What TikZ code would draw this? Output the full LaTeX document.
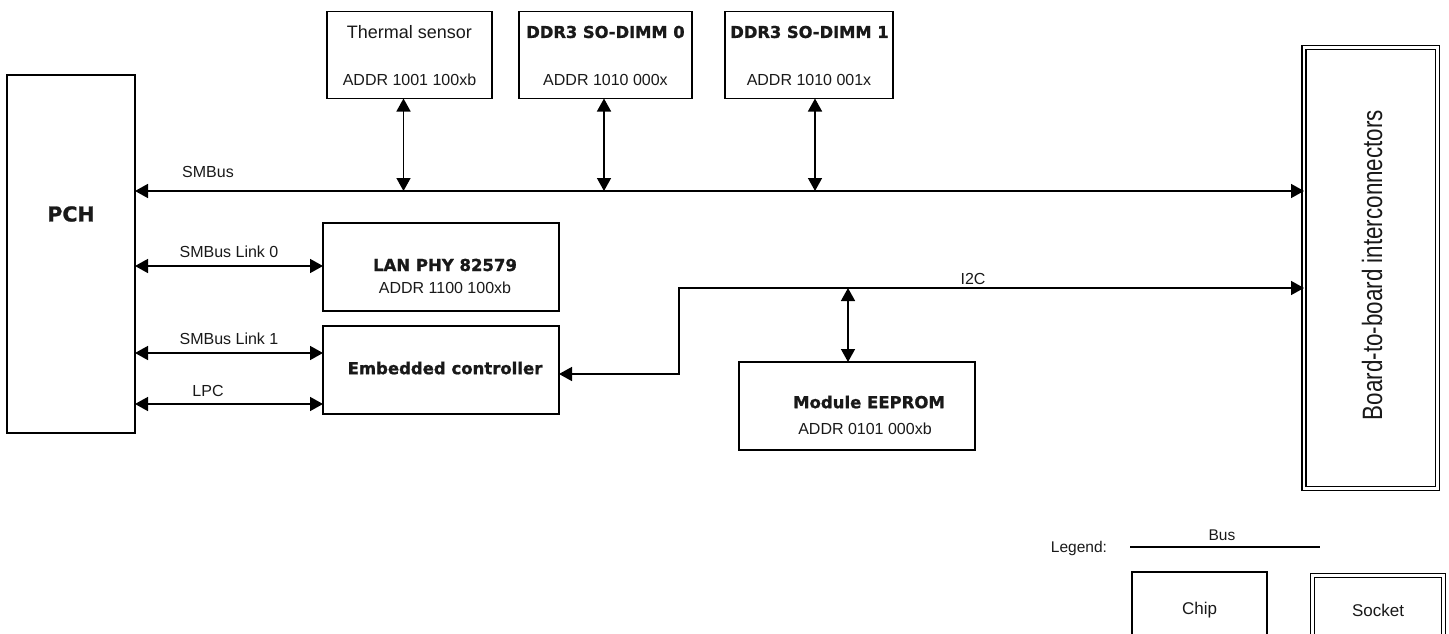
\documentclass[tikz,border=0pt]{standalone}
\usepackage{fontspec}
\setmainfont{Liberation Sans}
\newfontfamily\heavy{DejaVu Sans}[BoldFeatures={FakeBold=1.2}]
\usetikzlibrary{arrows.meta}
\tikzset{
  chip/.style={draw, line width=1.6pt, inner sep=0pt, outer sep=0pt},
  socket/.style={draw, line width=1.3pt, double, double distance=2.8pt, inner sep=0pt, outer sep=0pt},
  arr/.style={line width=1.5pt, <->, >={Triangle[length=13pt,width=14pt]}},
  busline/.style={line width=1.5pt},
  txt/.style={inner sep=0pt, text=black!90, font=\fontsize{16}{19}\selectfont},
  btxt/.style={inner sep=0pt, text=black!90, font=\heavy\bfseries\fontsize{16.5}{20}\selectfont},
}
\begin{document}
\begin{tikzpicture}[x=1pt,y=-1pt]
\useasboundingbox (0,0) rectangle (1449,634);
\clip (0,0) rectangle (1449,634);

% main chips
\node[chip, minimum width=128pt, minimum height=358pt] (pch) at (71,254) {};
\node[btxt, font=\heavy\bfseries\fontsize{20.5}{24}\selectfont] (pchl) at (71,214) {PCH};

\node[chip, minimum width=165pt, minimum height=87pt] (therm) at (409.5,55) {};
\node[txt, font=\fontsize{18}{21}\selectfont] (therml1) at (409.5,32) {Thermal sensor};
\node[txt] (therml2) at (409.5,80) {ADDR 1001 100xb};

\node[chip, minimum width=173pt, minimum height=87pt] (dimm0) at (605.5,55) {};
\node[btxt, font=\heavy\bfseries\fontsize{16.3}{20}\selectfont] (dimm0l1) at (605.5,32) {DDR3 SO-DIMM 0};
\node[txt] (dimm0l2) at (605.5,80) {ADDR 1010 000x};

\node[chip, minimum width=168pt, minimum height=87pt] (dimm1) at (809,55) {};
\node[btxt, font=\heavy\bfseries\fontsize{16.3}{20}\selectfont] (dimm1l1) at (809.5,32) {DDR3 SO-DIMM 1};
\node[txt] (dimm1l2) at (809,80) {ADDR 1010 001x};

\node[chip, minimum width=236pt, minimum height=88pt] (lan) at (441,267) {};
\node[btxt] (lanl1) at (445,265) {LAN PHY 82579};
\node[txt] (lanl2) at (445,288) {ADDR 1100 100xb};

\node[chip, minimum width=236pt, minimum height=88pt] (ec) at (441,370) {};
\node[btxt] (ecl) at (445,368) {Embedded controller};

\node[chip, minimum width=236pt, minimum height=88pt] (eep) at (857,406) {};
\node[btxt] (eepl1) at (869,402) {Module EEPROM};
\node[txt] (eepl2) at (865,429) {ADDR 0101 000xb};

\node[socket, minimum width=133.5pt, minimum height=441pt] (board) at (1370.75,268) {};
\node[inner sep=0pt, rotate=90, text=black!90, font=\fontsize{28}{32}\selectfont] (boardl) at (1372,265) {\scalebox{0.8}[1]{Board-to-board interconnectors}};

% SMBus
\coordinate (sy) at (0,191);
\draw[arr] (sy -| pch.east) -- (sy -| board.west);
\node[txt] (smbusl) at (208,172) {SMBus};
\draw[arr] ([xshift=-6pt]therm.south) -- ([xshift=-6pt]therm.south |- sy);
\draw[arr] ([xshift=-1.5pt]dimm0.south) -- ([xshift=-1.5pt]dimm0.south |- sy);
\draw[arr] ([xshift=6pt]dimm1.south) -- ([xshift=6pt]dimm1.south |- sy);

% links
\coordinate (l0) at (0,266);
\coordinate (l1) at (0,353);
\coordinate (lp) at (0,404);
\draw[arr] (l0 -| pch.east) -- (l0 -| lan.west);
\node[txt] (l0l) at (229,252) {SMBus Link 0};
\draw[arr] (l1 -| pch.east) -- (l1 -| ec.west);
\node[txt] (l1l) at (229,339) {SMBus Link 1};
\draw[arr] (lp -| pch.east) -- (lp -| ec.west);
\node[txt] (lpl) at (208,391) {LPC};

% I2C
\coordinate (i2) at (0,288);
\coordinate (bend) at (679,288);
\draw[arr] (i2 -| board.west) -- (bend) |- ([yshift=-4pt]ec.east);
\node[txt] (i2l) at (973,279) {I2C};
\draw[arr] ([xshift=-9pt]eep.north) -- ([xshift=-9pt]eep.north |- i2);

% legend
\node[txt, font=\fontsize{15.5}{18}\selectfont] (legl) at (1079,548) {Legend:};
\coordinate (bl) at (1130,547);
\coordinate (br) at (1320,547);
\draw[busline] (bl) -- (br);
\node[txt, font=\fontsize{15.5}{18}\selectfont] (busl) at (1222,535) {Bus};
\node[chip, minimum width=135pt, minimum height=120pt] (chipk) at (1199.5,632) {};
\node[txt, font=\fontsize{17}{20}\selectfont] (chipl) at (1199.5,610) {Chip};
\node[socket, minimum width=131pt, minimum height=120pt] (sock) at (1378,635.5) {};
\node[txt, font=\fontsize{17}{20}\selectfont] (sockl) at (1378,610) {Socket};
\end{tikzpicture}
\end{document}
